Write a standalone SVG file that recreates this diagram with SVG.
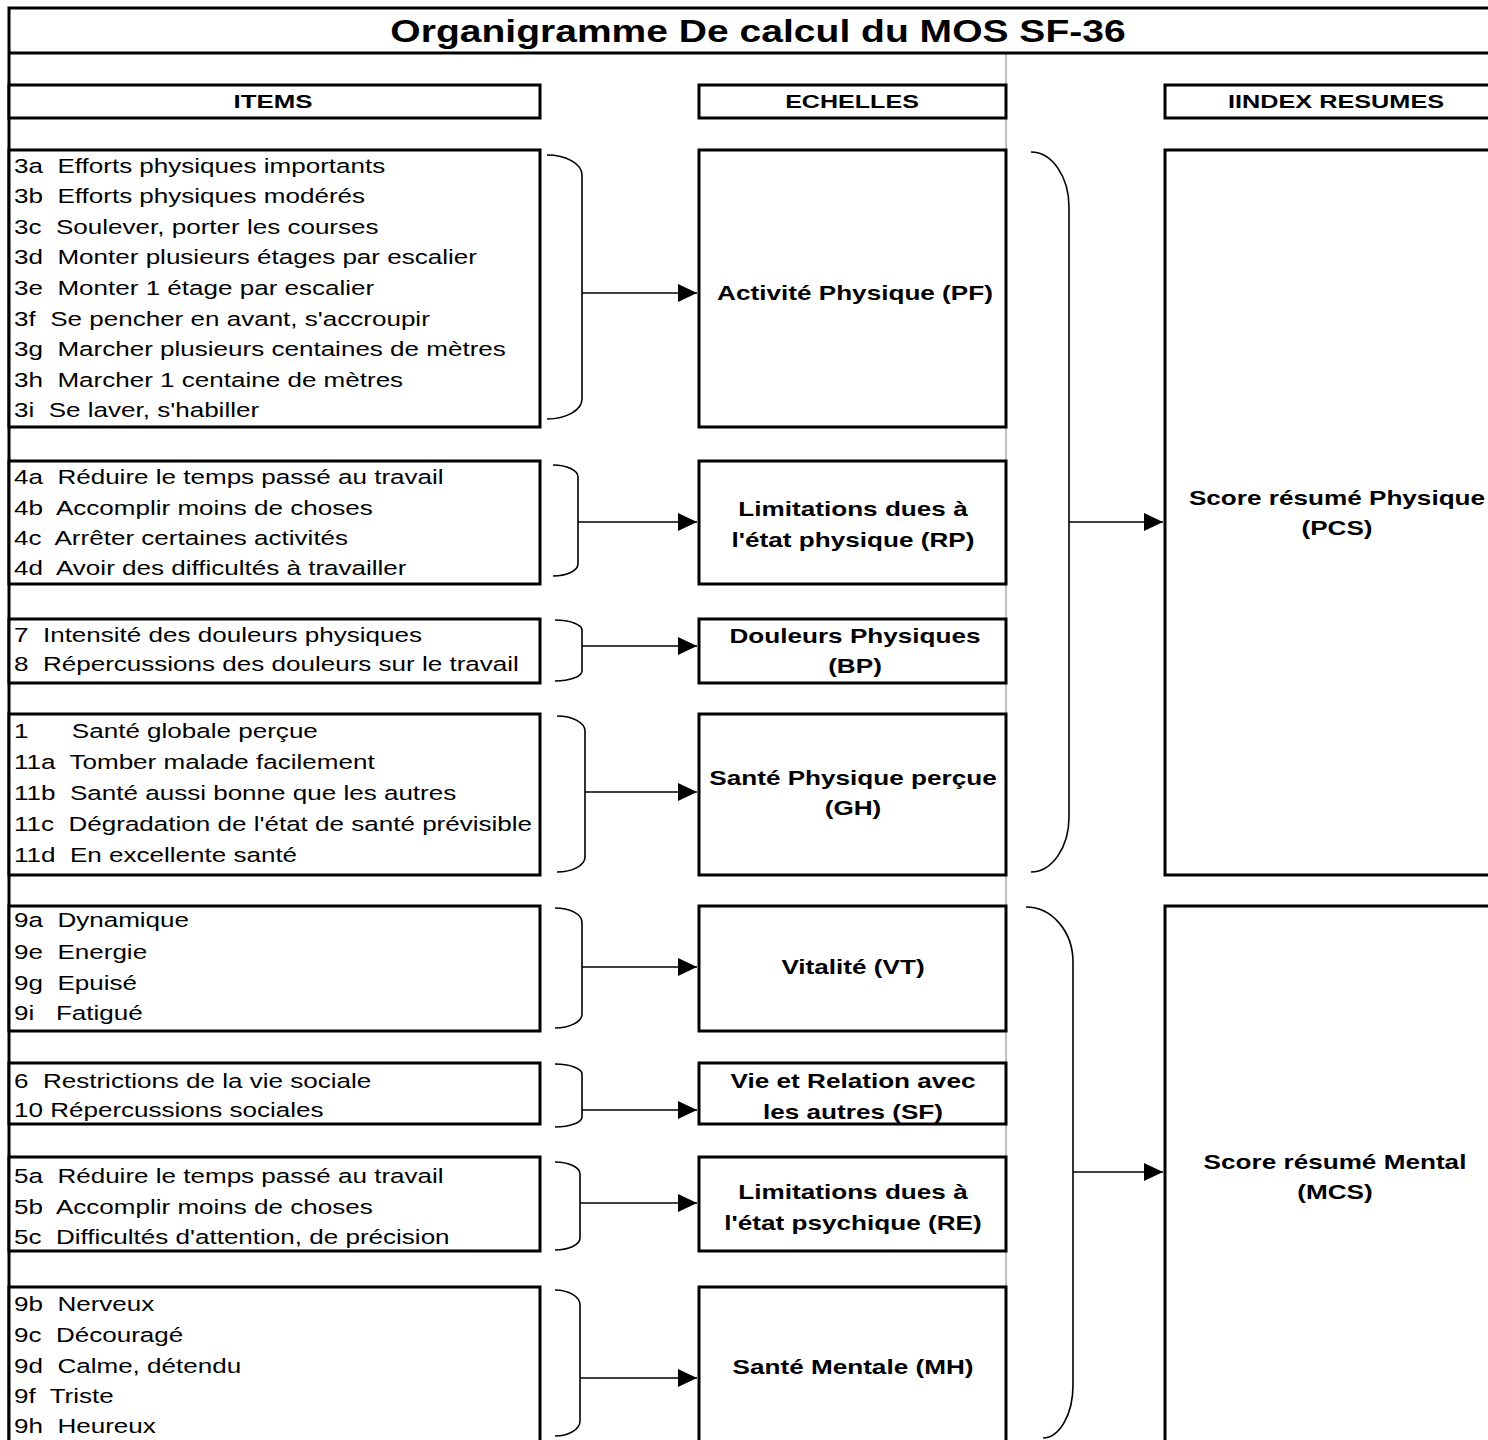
<svg xmlns="http://www.w3.org/2000/svg" width="1488" height="1440" viewBox="0 0 1488 1440">
<style>
.box{fill:#fff;stroke:#000;stroke-width:3}
.grid{stroke:#c0c0c0;stroke-width:2;fill:none}
.brace{fill:none;stroke:#000;stroke-width:1.6}
.arr{stroke:#000;stroke-width:1.5;fill:none;marker-end:url(#ah)}
.it{font-family:"Liberation Sans",Arial,sans-serif;font-size:20.5px;fill:#000}
.hd{font-family:"Liberation Sans",Arial,sans-serif;font-size:19px;font-weight:bold;fill:#000;text-anchor:middle}
.sc{font-family:"Liberation Sans",Arial,sans-serif;font-size:19.5px;font-weight:bold;fill:#000;text-anchor:middle}
.tt{font-family:"Liberation Sans",Arial,sans-serif;font-size:32px;font-weight:bold;fill:#000;text-anchor:middle}
</style>
<defs>
<marker id="ah" markerUnits="userSpaceOnUse" markerWidth="20" markerHeight="20" refX="19" refY="9" orient="auto">
<path d="M0,0 L19,9 L0,18 z" fill="#000"/>
</marker>
</defs>
<rect width="1488" height="1440" fill="#fff"/>
<line class="grid" x1="1006" y1="53" x2="1006" y2="1440"/>
<g id="title">
<path d="M1490,8 H9 V1442" fill="none" stroke="#000" stroke-width="3"/>
<line x1="9" y1="53" x2="1490" y2="53" stroke="#000" stroke-width="3"/>
<text class="tt" transform="translate(758,0) scale(1.22,1)" x="0" y="42">Organigramme De calcul du MOS SF-36</text>
</g>
<g id="hdr-items"><rect class="box" x="9" y="85" width="531" height="33"/><text class="hd" transform="translate(273,0) scale(1.36,1)" x="0" y="108">ITEMS</text></g>
<g id="hdr-echelles"><rect class="box" x="699" y="85" width="307" height="33"/><text class="hd" transform="translate(852,0) scale(1.32,1)" x="0" y="108">ECHELLES</text></g>
<g id="hdr-index"><rect class="box" x="1165" y="85" width="330" height="33"/><text class="hd" transform="translate(1336,0) scale(1.33,1)" x="0" y="108">IINDEX RESUMES</text></g>

<g id="items-pf"><rect class="box" x="9" y="150" width="531" height="277"/>
<text class="it" xml:space="preserve" transform="translate(14,0) scale(1.27,1)"><tspan x="0" y="173">3a  Efforts physiques importants</tspan><tspan x="0" y="203">3b  Efforts physiques modérés</tspan><tspan x="0" y="234">3c  Soulever, porter les courses</tspan><tspan x="0" y="264">3d  Monter plusieurs étages par escalier</tspan><tspan x="0" y="295">3e  Monter 1 étage par escalier</tspan><tspan x="0" y="326">3f  Se pencher en avant, s'accroupir</tspan><tspan x="0" y="356">3g  Marcher plusieurs centaines de mètres</tspan><tspan x="0" y="387">3h  Marcher 1 centaine de mètres</tspan><tspan x="0" y="417">3i  Se laver, s'habiller</tspan></text></g>
<g id="items-rp"><rect class="box" x="9" y="461" width="531" height="123"/>
<text class="it" xml:space="preserve" transform="translate(14,0) scale(1.27,1)"><tspan x="0" y="484">4a  Réduire le temps passé au travail</tspan><tspan x="0" y="515">4b  Accomplir moins de choses</tspan><tspan x="0" y="545">4c  Arrêter certaines activités</tspan><tspan x="0" y="575">4d  Avoir des difficultés à travailler</tspan></text></g>
<g id="items-bp"><rect class="box" x="9" y="619" width="531" height="64"/>
<text class="it" xml:space="preserve" transform="translate(14,0) scale(1.27,1)"><tspan x="0" y="642">7  Intensité des douleurs physiques</tspan><tspan x="0" y="671">8  Répercussions des douleurs sur le travail</tspan></text></g>
<g id="items-gh"><rect class="box" x="9" y="714" width="531" height="161"/>
<text class="it" xml:space="preserve" transform="translate(14,0) scale(1.27,1)"><tspan x="0" y="738">1      Santé globale perçue</tspan><tspan x="0" y="769">11a  Tomber malade facilement</tspan><tspan x="0" y="800">11b  Santé aussi bonne que les autres</tspan><tspan x="0" y="831">11c  Dégradation de l'état de santé prévisible</tspan><tspan x="0" y="862">11d  En excellente santé</tspan></text></g>
<g id="items-vt"><rect class="box" x="9" y="906" width="531" height="125"/>
<text class="it" xml:space="preserve" transform="translate(14,0) scale(1.27,1)"><tspan x="0" y="927">9a  Dynamique</tspan><tspan x="0" y="959">9e  Energie</tspan><tspan x="0" y="990">9g  Epuisé</tspan><tspan x="0" y="1020">9i   Fatigué</tspan></text></g>
<g id="items-sf"><rect class="box" x="9" y="1063" width="531" height="61"/>
<text class="it" xml:space="preserve" transform="translate(14,0) scale(1.27,1)"><tspan x="0" y="1088">6  Restrictions de la vie sociale</tspan><tspan x="0" y="1117">10 Répercussions sociales</tspan></text></g>
<g id="items-re"><rect class="box" x="9" y="1157" width="531" height="94"/>
<text class="it" xml:space="preserve" transform="translate(14,0) scale(1.27,1)"><tspan x="0" y="1183">5a  Réduire le temps passé au travail</tspan><tspan x="0" y="1214">5b  Accomplir moins de choses</tspan><tspan x="0" y="1244">5c  Difficultés d'attention, de précision</tspan></text></g>
<g id="items-mh"><rect class="box" x="9" y="1287" width="531" height="160"/>
<text class="it" xml:space="preserve" transform="translate(14,0) scale(1.27,1)"><tspan x="0" y="1311">9b  Nerveux</tspan><tspan x="0" y="1342">9c  Découragé</tspan><tspan x="0" y="1373">9d  Calme, détendu</tspan><tspan x="0" y="1403">9f  Triste</tspan><tspan x="0" y="1433">9h  Heureux</tspan></text></g>

<g id="scale-pf"><rect class="box" x="699" y="150" width="307" height="277"/><text class="sc" transform="translate(855,0) scale(1.34,1)" x="0" y="300">Activité Physique (PF)</text></g>
<g id="scale-rp"><rect class="box" x="699" y="461" width="307" height="123"/><text class="sc" transform="translate(853,0) scale(1.34,1)"><tspan x="0" y="516">Limitations dues à</tspan><tspan x="0" y="547">l'état physique (RP)</tspan></text></g>
<g id="scale-bp"><rect class="box" x="699" y="619" width="307" height="64"/><text class="sc" transform="translate(855,0) scale(1.34,1)"><tspan x="0" y="643">Douleurs Physiques</tspan><tspan x="0" y="673">(BP)</tspan></text></g>
<g id="scale-gh"><rect class="box" x="699" y="714" width="307" height="161"/><text class="sc" transform="translate(853,0) scale(1.34,1)"><tspan x="0" y="785">Santé Physique perçue</tspan><tspan x="0" y="815">(GH)</tspan></text></g>
<g id="scale-vt"><rect class="box" x="699" y="906" width="307" height="125"/><text class="sc" transform="translate(853,0) scale(1.34,1)" x="0" y="974">Vitalité (VT)</text></g>
<g id="scale-sf"><rect class="box" x="699" y="1063" width="307" height="61"/><text class="sc" transform="translate(853,0) scale(1.34,1)"><tspan x="0" y="1088">Vie et Relation avec</tspan><tspan x="0" y="1119">les autres (SF)</tspan></text></g>
<g id="scale-re"><rect class="box" x="699" y="1157" width="307" height="94"/><text class="sc" transform="translate(853,0) scale(1.34,1)"><tspan x="0" y="1199">Limitations dues à</tspan><tspan x="0" y="1230">l'état psychique (RE)</tspan></text></g>
<g id="scale-mh"><rect class="box" x="699" y="1287" width="307" height="160"/><text class="sc" transform="translate(853,0) scale(1.34,1)" x="0" y="1374">Santé Mentale (MH)</text></g>

<g id="index-pcs"><rect class="box" x="1165" y="150" width="330" height="725"/><text class="sc" transform="translate(1337,0) scale(1.34,1)"><tspan x="0" y="505">Score résumé Physique</tspan><tspan x="0" y="535">(PCS)</tspan></text></g>
<g id="index-mcs"><rect class="box" x="1165" y="906" width="330" height="541"/><text class="sc" transform="translate(1335,0) scale(1.34,1)"><tspan x="0" y="1169">Score résumé Mental</tspan><tspan x="0" y="1199">(MCS)</tspan></text></g>

<g id="connectors">
<path class="brace" d="M547,155 A35,20 0 0 1 582,175 L582,399 A35,20 0 0 1 547,419"/>
<path class="brace" d="M553,465 A25,12 0 0 1 578,477 L578,564 A25,12 0 0 1 553,576"/>
<path class="brace" d="M555,620 A27,10 0 0 1 582,630 L582,671 A27,10 0 0 1 555,681"/>
<path class="brace" d="M557,716 A28,15 0 0 1 585,731 L585,857 A28,15 0 0 1 557,872"/>
<path class="brace" d="M555,908 A27,14 0 0 1 582,922 L582,1014 A27,14 0 0 1 555,1028"/>
<path class="brace" d="M555,1064 A27,10 0 0 1 582,1074 L582,1117 A27,10 0 0 1 555,1127"/>
<path class="brace" d="M555,1162 A25,12 0 0 1 580,1174 L580,1238 A25,12 0 0 1 555,1250"/>
<path class="brace" d="M555,1290 A25,15 0 0 1 580,1305 L580,1421 A25,15 0 0 1 555,1436"/>
<path class="brace" d="M1031,152 A38,55 0 0 1 1069,207 L1069,817 A38,55 0 0 1 1031,872"/>
<path class="brace" d="M1026,907 A47,55 0 0 1 1073,962 L1073,1385 A30,53 0 0 1 1043,1438"/>
<line class="arr" x1="582" y1="293" x2="697" y2="293"/>
<line class="arr" x1="578" y1="522" x2="697" y2="522"/>
<line class="arr" x1="582" y1="646" x2="697" y2="646"/>
<line class="arr" x1="585" y1="792" x2="697" y2="792"/>
<line class="arr" x1="582" y1="967" x2="697" y2="967"/>
<line class="arr" x1="582" y1="1110" x2="697" y2="1110"/>
<line class="arr" x1="580" y1="1203" x2="697" y2="1203"/>
<line class="arr" x1="580" y1="1378" x2="697" y2="1378"/>
<line class="arr" x1="1069" y1="522" x2="1163" y2="522"/>
<line class="arr" x1="1073" y1="1172" x2="1163" y2="1172"/>
</g>
</svg>
